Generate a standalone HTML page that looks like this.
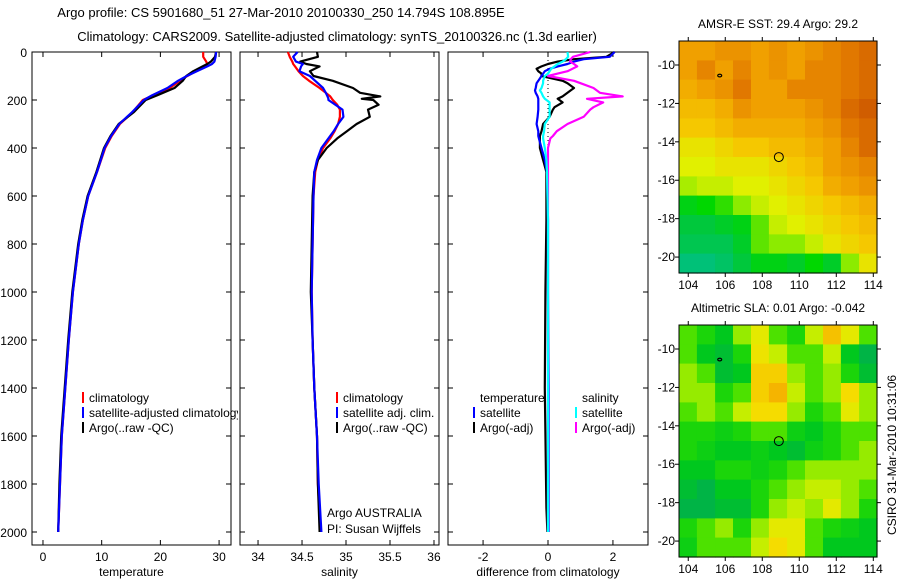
<!DOCTYPE html>
<html><head><meta charset="utf-8">
<style>
html,body{margin:0;padding:0;background:#fff;}
svg{display:block;font-family:"Liberation Sans",sans-serif;}
</style></head>
<body>
<svg id="fig" width="900" height="580" viewBox="0 0 900 580" xmlns="http://www.w3.org/2000/svg">
<text x="281" y="17" font-size="13" text-anchor="middle">Argo profile: CS 5901680_51 27-Mar-2010 20100330_250 14.794S 108.895E</text>
<text x="337" y="41" font-size="13" text-anchor="middle">Climatology: CARS2009. Satellite-adjusted climatology: synTS_20100326.nc (1.3d earlier)</text>
<g id="g"></g>
</svg>
<script>
// ---------- profile data ----------
const depthT = [0,20,40,50,60,80,100,120,150,180,200,250,300,350,400,500,600,700,800,1000,1200,1400,1600,1800,2000];
const tempClim = [27.3,27.3,27.8,28.0,27.5,26.0,24.6,23.3,21.6,18.8,17.0,15.3,13.1,11.7,10.6,9.2,7.7,6.8,6.1,5.1,4.4,3.8,3.2,2.9,2.6];
const tempSat  = [29.5,29.4,29.2,28.8,28.0,26.2,24.5,23.0,21.2,18.6,17.2,15.2,13.0,11.6,10.5,9.2,7.7,6.8,6.1,5.1,4.4,3.8,3.2,2.9,2.6];
const tempArgo = [29.5,29.3,28.6,28.0,27.2,25.6,24.4,23.8,22.4,19.5,17.5,15.5,12.9,11.5,10.4,9.1,7.6,6.7,6.0,5.0,4.3,3.7,3.1,2.8,2.6];

const depthS = [0,20,40,50,60,80,100,120,150,170,185,195,200,220,240,270,300,330,360,400,450,500,600,800,1000,1200,1400,1600,1800,2000];
const salClim = [34.34,34.36,34.39,34.40,34.42,34.46,34.51,34.58,34.70,34.77,34.82,34.84,34.85,34.90,34.93,34.93,34.91,34.87,34.82,34.74,34.68,34.65,34.63,34.62,34.61,34.62,34.64,34.67,34.68,34.71];
const salSat  = [34.45,34.40,34.43,34.51,34.49,34.47,34.59,34.65,34.74,34.77,34.79,34.80,34.80,34.88,34.96,34.97,34.91,34.86,34.80,34.72,34.67,34.64,34.63,34.62,34.61,34.62,34.64,34.67,34.69,34.72];
const salArgo = [34.67,34.68,34.48,34.55,34.70,34.59,34.63,34.85,35.08,35.16,35.39,35.18,35.31,35.37,35.25,35.27,35.12,35.01,34.90,34.78,34.68,34.64,34.62,34.61,34.60,34.62,34.64,34.67,34.68,34.70];

const depthD = [0,20,30,40,50,60,70,80,90,100,120,130,150,160,170,185,195,210,230,240,270,300,330,350,360,400,450,500,700,1000,1400,1900,2000];
const dTempSat  = [2.05,1.9,1.1,0.8,0.6,0.3,0.05,-0.1,-0.15,-0.2,-0.3,-0.35,-0.38,-0.4,-0.38,-0.32,-0.3,-0.3,-0.3,-0.3,-0.32,-0.35,-0.3,-0.3,-0.28,-0.2,-0.1,-0.03,0,0,0.02,0.02,0.02];
const dTempArgo = [2.05,1.8,0.8,0.3,0,-0.2,-0.35,-0.3,-0.2,-0.2,0.45,0.6,0.8,0.7,0.6,0.45,0.3,0.45,0.2,0.15,0.05,-0.15,-0.2,-0.25,-0.25,-0.25,-0.15,-0.05,-0.05,-0.08,-0.1,-0.05,-0.02];
const dSalSat   = [0.6,0.62,0.55,0.45,0.3,0.2,0.1,0.05,0,-0.1,-0.15,-0.15,-0.2,-0.25,-0.2,-0.15,-0.1,0.05,0.05,0.05,0.05,-0.1,-0.12,-0.15,-0.15,-0.1,-0.05,-0.03,0,0,0,0,0];
const dSalArgo  = [1.3,0.77,0.7,0.68,0.8,0.9,0.75,0.6,0.3,0,0.8,1.0,1.4,1.5,1.6,2.3,1.2,1.7,1.4,1.3,1.1,0.6,0.27,0.15,0.07,0,0,0,0,0,0,0,0];

// ---------- map data ----------
const mapLonEdges = [103.5,104.47,105.45,106.42,107.39,108.36,109.34,110.31,111.28,112.25,113.23,114.2];
const mapLatEdges = [-8.75,-9.76,-10.76,-11.77,-12.78,-13.78,-14.79,-15.80,-16.80,-17.81,-18.82,-19.82,-20.83];
const sstGrid = [
[28.9,28.9,29.0,29.0,28.9,29.0,28.9,29.0,29.1,29.2,29.3],
[28.9,29.1,28.9,29.1,28.9,29.0,28.9,29.1,29.1,29.2,29.3],
[28.8,28.9,29.0,29.2,28.9,28.9,29.1,29.1,29.1,29.2,29.3],
[28.7,28.7,28.8,29.0,28.9,28.9,28.9,29.0,29.1,29.3,29.4],
[28.6,28.6,28.7,28.8,28.8,28.8,28.8,28.9,29.0,29.2,29.3],
[28.4,28.4,28.5,28.6,28.6,28.7,28.7,28.8,28.9,29.1,29.3],
[28.3,28.3,28.4,28.4,28.4,28.5,28.6,28.7,28.9,29.0,29.1],
[28.1,28.2,28.2,28.3,28.3,28.4,28.5,28.6,28.8,28.9,29.0],
[27.6,27.7,27.8,28.0,28.2,28.3,28.4,28.5,28.6,28.7,28.8],
[27.4,27.4,27.5,27.6,27.9,28.2,28.3,28.4,28.5,28.6,28.7],
[27.3,27.3,27.3,27.5,27.9,28.0,28.0,28.2,28.4,28.5,28.6],
[27.1,27.1,27.2,27.4,27.6,27.6,27.5,27.7,27.5,28.0,28.4]];
const slaGrid = [
[0.0,-0.02,-0.04,0.02,0.06,0.0,-0.02,0.04,0.10,0.06,0.0],
[0.0,-0.04,-0.05,-0.02,0.07,0.04,0.0,0.0,0.04,-0.04,-0.06],
[0.02,0.0,-0.05,-0.04,0.09,0.09,0.02,0.0,0.02,-0.02,-0.05],
[0.02,0.02,-0.02,0.0,0.09,0.11,0.04,0.0,0.02,0.08,0.02],
[0.0,0.02,0.0,0.04,0.08,0.08,0.02,-0.02,0.0,0.06,0.02],
[-0.02,-0.02,-0.03,-0.02,0.0,0.0,-0.03,-0.04,-0.02,0.0,0.0],
[-0.02,-0.03,-0.04,-0.04,-0.03,-0.04,-0.05,-0.03,-0.02,0.0,0.02],
[-0.04,-0.04,-0.02,-0.02,-0.03,-0.02,0.0,0.02,0.02,0.02,0.02],
[-0.05,-0.06,-0.04,-0.04,-0.02,0.0,0.02,0.04,0.04,0.02,0.0],
[-0.06,-0.06,-0.05,-0.05,-0.02,0.02,0.04,0.02,0.06,0.02,-0.02],
[-0.02,0.0,0.02,-0.02,0.02,0.06,0.06,0.0,-0.02,-0.03,-0.04],
[-0.03,0.0,0.0,0.0,0.04,0.08,0.06,0.0,-0.04,-0.04,-0.04]];
const depthTicks = [0,200,400,600,800,1000,1200,1400,1600,1800,2000];
const tempTicks = [0,10,20,30];
const salTicks = [34,34.5,35,35.5,36];
const diffTicks = [-2,0,2];
const latTicks = [-10,-12,-14,-16,-18,-20];
const lonTicks = [104,106,108,110,112,114];

const NS='http://www.w3.org/2000/svg';
const G=document.getElementById('g');
function el(tag,attrs,parent,txt){const e=document.createElementNS(NS,tag);for(const k in attrs)e.setAttribute(k,attrs[k]);if(txt!==undefined)e.textContent=txt;(parent||G).appendChild(e);return e;}

const TOP=52,BOT=545;
const yD=d=>TOP+0.24*d;

const panels=[
 {name:'temperature',x0:32,x1:231,v0:-1.87,v1:32.03,ticks:tempTicks,label:'temperature',yLabels:true},
 {name:'salinity',x0:240,x1:439,v0:33.795,v1:36.057,ticks:salTicks,label:'salinity'},
 {name:'difference',x0:448,x1:648,v0:-3.08,v1:3.08,ticks:diffTicks,label:'difference from climatology'}];
panels.forEach(p=>{p.sx=v=>p.x0+(v-p.v0)/(p.v1-p.v0)*(p.x1-p.x0);});

function drawPanelFrame(p){
  const g=el('g',{});  
  el('rect',{x:p.x0,y:TOP,width:p.x1-p.x0,height:BOT-TOP,fill:'none',stroke:'#000','stroke-width':1},g);
  depthTicks.forEach(d=>{const y=yD(d);
    el('line',{x1:p.x0,x2:p.x0+5,y1:y,y2:y,stroke:'#000'},g);
    el('line',{x1:p.x1-5,x2:p.x1,y1:y,y2:y,stroke:'#000'},g);
    if(p.yLabels){const t=el('text',{x:27,y:y+5,'font-size':12,'text-anchor':'end'},g,String(d));}
  });
  p.ticks.forEach(v=>{const x=p.sx(v);
    el('line',{x1:x,x2:x,y1:BOT,y2:BOT-5,stroke:'#000'},g);
    el('line',{x1:x,x2:x,y1:TOP,y2:TOP+5,stroke:'#000'},g);
    const t=el('text',{x:x,y:561,'font-size':12,'text-anchor':'middle'},g,String(v));
  });
  const xl=el('text',{x:(p.x0+p.x1)/2,y:576,'font-size':12,'text-anchor':'middle'},g,p.label);
  
  return g;
}
function line(p,depths,vals,color,name,w){
  const pts=depths.map((d,i)=>p.sx(vals[i]).toFixed(1)+','+yD(d).toFixed(1)).join(' ');
  const l=el('polyline',{points:pts,fill:'none',stroke:color,'stroke-width':w||2.2,'stroke-linejoin':'round'});
  
}
panels.forEach(drawPanelFrame);
const [P1,P2,P3]=panels;
line(P1,depthT,tempClim,'#f00','temp-climatology-line');
line(P1,depthT,tempArgo,'#000','temp-argo-line');
line(P1,depthT,tempSat,'#00f','temp-satellite-line');
line(P2,depthS,salClim,'#f00','sal-climatology-line');
line(P2,depthS,salArgo,'#000','sal-argo-line');
line(P2,depthS,salSat,'#00f','sal-satellite-line');
el('line',{x1:P3.sx(0),x2:P3.sx(0),y1:TOP,y2:yD(2000),stroke:'#000','stroke-dasharray':'1,3'});
line(P3,depthD,dTempArgo,'#000','diff-temp-argo-line');
line(P3,depthD,dTempSat,'#00f','diff-temp-satellite-line');
line(P3,depthD,dSalArgo,'#f0f','diff-sal-argo-line');
line(P3,depthD,dSalSat,'#0ff','diff-sal-satellite-line');

function legend(x,y,items,name){
  const g=el('g',{});  
  items.forEach((it,i)=>{const yy=y+i*15;
    if(it[1]) el('rect',{x:x,y:yy-10,width:2,height:11,fill:it[1]},g);
    const t=el('text',{x:x+7,y:yy,'font-size':12},g,it[0]);
    
  });
  return g;
}
const cp=el('clipPath',{id:'c1'});el('rect',{x:32,y:380,width:206,height:60},cp);
legend(82,402,[['climatology','#f00'],['satellite-adjusted climatology','#00f'],['Argo(..raw -QC)','#000']],'temperature-legend').setAttribute('clip-path','url(#c1)');
legend(336,402,[['climatology','#f00'],['satellite adj. clim.','#00f'],['Argo(..raw -QC)','#000']],'salinity-legend');
legend(473,402,[['temperature',null],['satellite','#00f'],['Argo(-adj)','#000']],'diff-temperature-legend');
legend(575,402,[['salinity',null],['satellite','#0ff'],['Argo(-adj)','#f0f']],'diff-salinity-legend');
let t=el('text',{x:327,y:517,'font-size':12},G,'Argo AUSTRALIA');
t=el('text',{x:327,y:533,'font-size':12},G,'PI: Susan Wijffels');

// ---------- maps ----------
function lerpC(stops,v){
  if(v<=stops[0][0])return stops[0][1];
  for(let i=1;i<stops.length;i++){if(v<=stops[i][0]){const a=stops[i-1],b=stops[i],f=(v-a[0])/(b[0]-a[0]);
    return 'rgb('+a[1].map((c,j)=>Math.round(c+(b[1][j]-c)*f)).join(',')+')';}}
  return 'rgb('+stops[stops.length-1][1].join(',')+')';
}
function toRGB(c){return typeof c==='string'?c:'rgb('+c.join(',')+')';}
const sstStops=[[27.0,[0,190,140]],[27.4,[0,200,60]],[27.7,[0,215,0]],[28.0,[140,235,0]],[28.3,[225,240,0]],[28.6,[245,200,0]],[28.9,[240,160,0]],[29.2,[225,120,0]],[29.5,[200,80,0]]];
const slaStops=[[-0.07,[0,170,90]],[-0.04,[0,200,30]],[-0.01,[40,220,0]],[0.02,[150,235,0]],[0.05,[220,240,0]],[0.08,[245,220,0]],[0.11,[245,180,0]]];

function drawMap(y0,y1,grid,stops,title,name){
  const x0=679,x1=877;
  const sx=l=>x0+(l-103.5)/(114.2-103.5)*(x1-x0);
  const sy=la=>y0+(la-(-8.75))/(-20.83-(-8.75))*(y1-y0);
  const g=el('g',{});  
  grid.forEach((row,r)=>row.forEach((v,c)=>{
    const xa=sx(mapLonEdges[c]),xb=sx(mapLonEdges[c+1]),ya=sy(mapLatEdges[r]),yb=sy(mapLatEdges[r+1]);
    const cell=el('rect',{x:xa.toFixed(1),y:ya.toFixed(1),width:(xb-xa+0.6).toFixed(1),height:(yb-ya+0.6).toFixed(1),fill:toRGB(lerpC(stops,v))},g);
    
  }));
  el('rect',{x:x0,y:y0,width:x1-x0,height:y1-y0,fill:'none',stroke:'#000'},g);
  latTicks.forEach(la=>{const y=sy(la);
    el('line',{x1:x0-4,x2:x0,y1:y,y2:y,stroke:'#000'},g);el('line',{x1:x1,x2:x1+4,y1:y,y2:y,stroke:'#000'},g);
    const tt=el('text',{x:675,y:y+4,'font-size':12,'text-anchor':'end'},g,String(la));});
  lonTicks.forEach(lo=>{const x=sx(lo);
    el('line',{x1:x,x2:x,y1:y0-4,y2:y0,stroke:'#000'},g);el('line',{x1:x,x2:x,y1:y1,y2:y1+4,stroke:'#000'},g);
    const tt=el('text',{x:x,y:y1+16,'font-size':12,'text-anchor':'middle'},g,String(lo));});
  const c=el('circle',{cx:sx(108.895),cy:sy(-14.794),r:4.5,fill:'none',stroke:'#000'},g);
  
  el('ellipse',{cx:sx(105.7),cy:sy(-10.55),rx:2,ry:1.3,fill:'none',stroke:'#000','stroke-width':1.2},g);
  const tt=el('text',{x:778,y:y0-13,'font-size':12,'text-anchor':'middle'},g,title);
}
drawMap(41,273,sstGrid,sstStops,'AMSR-E SST: 29.4  Argo: 29.2','sst-map');
drawMap(325,557,slaGrid,slaStops,'Altimetric SLA: 0.01  Argo: -0.042','sla-map');
t=el('text',{x:0,y:0,'font-size':12,'text-anchor':'middle',transform:'translate(896,455) rotate(-90)'},G,'CSIRO 31-Mar-2010 10:31:06');

</script>
</body></html>
